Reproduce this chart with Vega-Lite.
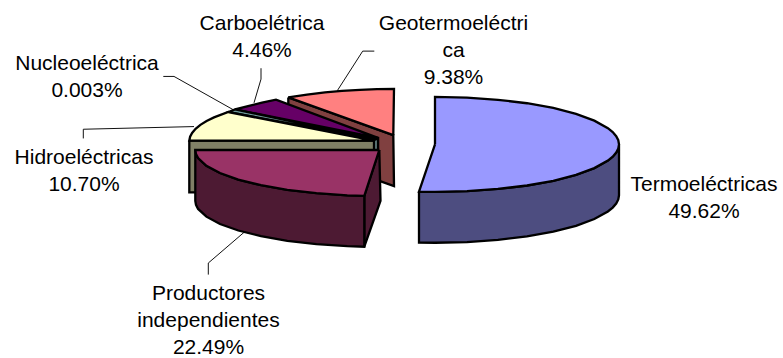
{
  "$schema": "https://vega.github.io/schema/vega-lite/v6.json",
  "width": 783,
  "height": 358,
  "padding": 0,
  "autosize": {"type": "fit", "contains": "padding"},
  "background": "white",
  "view": {"stroke": null},
  "config": {"style": {"cell": {"stroke": null}}},
  "datasets": {
    "faces": [
      {"face":"Geotermoeléctrica pared","pt":0,"x":-111.7,"y":51.5},{"face":"Geotermoeléctrica pared","pt":1,"x":-6.7,"y":13.3},{"face":"Geotermoeléctrica pared","pt":2,"x":-6,"y":-38.3},{"face":"Geotermoeléctrica pared","pt":3,"x":-111.7,"y":0},{"face":"Geotermoeléctrica pared","pt":4,"x":-111.7,"y":51.5},

      {"face":"Geotermoeléctrica","pt":0,"x":-6.7,"y":13.3},{"face":"Geotermoeléctrica","pt":1,"x":-6,"y":60},{"face":"Geotermoeléctrica","pt":2,"x":-23,"y":59.8},{"face":"Geotermoeléctrica","pt":3,"x":-40,"y":59.2},{"face":"Geotermoeléctrica","pt":4,"x":-58,"y":58.1},{"face":"Geotermoeléctrica","pt":5,"x":-75,"y":56.6},{"face":"Geotermoeléctrica","pt":6,"x":-93,"y":54.4},{"face":"Geotermoeléctrica","pt":7,"x":-111.7,"y":51.5},{"face":"Geotermoeléctrica","pt":8,"x":-6.7,"y":13.3},

      {"face":"Carboeléctrica pared","pt":0,"x":-165,"y":39.4},{"face":"Carboeléctrica pared","pt":1,"x":-22,"y":10.5},{"face":"Carboeléctrica pared","pt":2,"x":-22,"y":-41},{"face":"Carboeléctrica pared","pt":3,"x":-165,"y":-12},{"face":"Carboeléctrica pared","pt":4,"x":-165,"y":39.4},

      {"face":"Carboeléctrica","pt":0,"x":-22,"y":10.5},{"face":"Carboeléctrica","pt":1,"x":-124,"y":49.2},{"face":"Carboeléctrica","pt":2,"x":-138,"y":46.3},{"face":"Carboeléctrica","pt":3,"x":-152,"y":42.6},{"face":"Carboeléctrica","pt":4,"x":-165,"y":39.4},{"face":"Carboeléctrica","pt":5,"x":-22,"y":10.5},

      {"face":"Nucleoeléctrica pared","pt":0,"x":-26.5,"y":8.3},{"face":"Nucleoeléctrica pared","pt":1,"x":-22,"y":10},{"face":"Nucleoeléctrica pared","pt":2,"x":-22,"y":-42},{"face":"Nucleoeléctrica pared","pt":3,"x":-26.5,"y":-43},{"face":"Nucleoeléctrica pared","pt":4,"x":-26.5,"y":8.3},

      {"face":"Nucleoeléctrica","pt":0,"x":-24.5,"y":9},{"face":"Nucleoeléctrica","pt":1,"x":-165,"y":39.4},{"face":"Nucleoeléctrica","pt":2,"x":-171.7,"y":36.7},{"face":"Nucleoeléctrica","pt":3,"x":-24.5,"y":9},

      {"face":"Hidroeléctricas pared","pt":0,"x":-210.7,"y":7.8},{"face":"Hidroeléctricas pared","pt":1,"x":-26,"y":7.8},{"face":"Hidroeléctricas pared","pt":2,"x":-26,"y":-44.5},{"face":"Hidroeléctricas pared","pt":3,"x":-210.7,"y":-44.5},{"face":"Hidroeléctricas pared","pt":4,"x":-210.7,"y":7.8},

      {"face":"Hidroeléctricas","pt":0,"x":-26,"y":7.8},{"face":"Hidroeléctricas","pt":1,"x":-171.7,"y":36.7},{"face":"Hidroeléctricas","pt":2,"x":-186,"y":31.3},{"face":"Hidroeléctricas","pt":3,"x":-193.4,"y":27.6},{"face":"Hidroeléctricas","pt":4,"x":-199.6,"y":23.7},{"face":"Hidroeléctricas","pt":5,"x":-204.4,"y":19.7},{"face":"Hidroeléctricas","pt":6,"x":-207.9,"y":15.6},{"face":"Hidroeléctricas","pt":7,"x":-209.9,"y":11.8},{"face":"Hidroeléctricas","pt":8,"x":-210.7,"y":7.8},{"face":"Hidroeléctricas","pt":9,"x":-26,"y":7.8},

      {"face":"Productores corte","pt":0,"x":-20.7,"y":-1.7},{"face":"Productores corte","pt":1,"x":-19.5,"y":-53},{"face":"Productores corte","pt":2,"x":-35.7,"y":-99.5},{"face":"Productores corte","pt":3,"x":-35.7,"y":-48},{"face":"Productores corte","pt":4,"x":-20.7,"y":-1.7},

      {"face":"Productores pared","pt":0,"x":-204.7,"y":-1.7},{"face":"Productores pared","pt":1,"x":-204,"y":-5.7},{"face":"Productores pared","pt":2,"x":-201.9,"y":-9.8},{"face":"Productores pared","pt":3,"x":-193.6,"y":-17.6},{"face":"Productores pared","pt":4,"x":-180,"y":-25},{"face":"Productores pared","pt":5,"x":-161.7,"y":-31.6},{"face":"Productores pared","pt":6,"x":-139,"y":-37.3},{"face":"Productores pared","pt":7,"x":-112.7,"y":-42},{"face":"Productores pared","pt":8,"x":-83.6,"y":-45.4},{"face":"Productores pared","pt":9,"x":-52.7,"y":-47.5},{"face":"Productores pared","pt":10,"x":-35.7,"y":-48},{"face":"Productores pared","pt":11,"x":-35.7,"y":-99.5},{"face":"Productores pared","pt":12,"x":-52.7,"y":-99},{"face":"Productores pared","pt":13,"x":-83.6,"y":-96.9},{"face":"Productores pared","pt":14,"x":-112.7,"y":-93.5},{"face":"Productores pared","pt":15,"x":-139,"y":-88.8},{"face":"Productores pared","pt":16,"x":-161.7,"y":-83.1},{"face":"Productores pared","pt":17,"x":-180,"y":-76.5},{"face":"Productores pared","pt":18,"x":-193.6,"y":-69.1},{"face":"Productores pared","pt":19,"x":-201.9,"y":-61.3},{"face":"Productores pared","pt":20,"x":-204,"y":-57.2},{"face":"Productores pared","pt":21,"x":-204.7,"y":-53.2},{"face":"Productores pared","pt":22,"x":-204.7,"y":-1.7},

      {"face":"Productores","pt":0,"x":-20.7,"y":-1.7},{"face":"Productores","pt":1,"x":-35.7,"y":-48},{"face":"Productores","pt":2,"x":-52.7,"y":-47.5},{"face":"Productores","pt":3,"x":-83.6,"y":-45.4},{"face":"Productores","pt":4,"x":-112.7,"y":-42},{"face":"Productores","pt":5,"x":-139,"y":-37.3},{"face":"Productores","pt":6,"x":-161.7,"y":-31.6},{"face":"Productores","pt":7,"x":-180,"y":-25},{"face":"Productores","pt":8,"x":-193.6,"y":-17.6},{"face":"Productores","pt":9,"x":-201.9,"y":-9.8},{"face":"Productores","pt":10,"x":-204,"y":-5.7},{"face":"Productores","pt":11,"x":-204.7,"y":-1.7},{"face":"Productores","pt":12,"x":-20.7,"y":-1.7},

      {"face":"Termoeléctricas pared","pt":0,"x":19,"y":-43.8},{"face":"Termoeléctricas pared","pt":1,"x":35,"y":-44},{"face":"Termoeléctricas pared","pt":2,"x":67,"y":-43.3},{"face":"Termoeléctricas pared","pt":3,"x":97.9,"y":-41.1},{"face":"Termoeléctricas pared","pt":4,"x":127,"y":-37.6},{"face":"Termoeléctricas pared","pt":5,"x":153.3,"y":-32.8},{"face":"Termoeléctricas pared","pt":6,"x":176,"y":-26.9},{"face":"Termoeléctricas pared","pt":7,"x":194.3,"y":-20},{"face":"Termoeléctricas pared","pt":8,"x":207.9,"y":-12.4},{"face":"Termoeléctricas pared","pt":9,"x":212.7,"y":-8.4},{"face":"Termoeléctricas pared","pt":10,"x":216.2,"y":-4.3},{"face":"Termoeléctricas pared","pt":11,"x":218.3,"y":-0.2},{"face":"Termoeléctricas pared","pt":12,"x":219,"y":4},{"face":"Termoeléctricas pared","pt":13,"x":219,"y":-47.5},{"face":"Termoeléctricas pared","pt":14,"x":218.3,"y":-51.7},{"face":"Termoeléctricas pared","pt":15,"x":216.2,"y":-55.8},{"face":"Termoeléctricas pared","pt":16,"x":212.7,"y":-59.9},{"face":"Termoeléctricas pared","pt":17,"x":207.9,"y":-63.9},{"face":"Termoeléctricas pared","pt":18,"x":194.3,"y":-71.5},{"face":"Termoeléctricas pared","pt":19,"x":176,"y":-78.4},{"face":"Termoeléctricas pared","pt":20,"x":153.3,"y":-84.3},{"face":"Termoeléctricas pared","pt":21,"x":127,"y":-89.1},{"face":"Termoeléctricas pared","pt":22,"x":97.9,"y":-92.6},{"face":"Termoeléctricas pared","pt":23,"x":67,"y":-94.8},{"face":"Termoeléctricas pared","pt":24,"x":35,"y":-95.5},{"face":"Termoeléctricas pared","pt":25,"x":19,"y":-95.3},{"face":"Termoeléctricas pared","pt":26,"x":19,"y":-43.8},

      {"face":"Termoeléctricas","pt":0,"x":35,"y":4},{"face":"Termoeléctricas","pt":1,"x":19,"y":-43.8},{"face":"Termoeléctricas","pt":2,"x":35,"y":-44},{"face":"Termoeléctricas","pt":3,"x":67,"y":-43.3},{"face":"Termoeléctricas","pt":4,"x":97.9,"y":-41.1},{"face":"Termoeléctricas","pt":5,"x":127,"y":-37.6},{"face":"Termoeléctricas","pt":6,"x":153.3,"y":-32.8},{"face":"Termoeléctricas","pt":7,"x":176,"y":-26.9},{"face":"Termoeléctricas","pt":8,"x":194.3,"y":-20},{"face":"Termoeléctricas","pt":9,"x":207.9,"y":-12.4},{"face":"Termoeléctricas","pt":10,"x":212.7,"y":-8.4},{"face":"Termoeléctricas","pt":11,"x":216.2,"y":-4.3},{"face":"Termoeléctricas","pt":12,"x":218.3,"y":-0.2},{"face":"Termoeléctricas","pt":13,"x":219,"y":4},{"face":"Termoeléctricas","pt":14,"x":218.3,"y":8.2},{"face":"Termoeléctricas","pt":15,"x":216.2,"y":12.3},{"face":"Termoeléctricas","pt":16,"x":212.7,"y":16.4},{"face":"Termoeléctricas","pt":17,"x":207.9,"y":20.4},{"face":"Termoeléctricas","pt":18,"x":194.3,"y":28},{"face":"Termoeléctricas","pt":19,"x":176,"y":34.9},{"face":"Termoeléctricas","pt":20,"x":153.3,"y":40.8},{"face":"Termoeléctricas","pt":21,"x":127,"y":45.6},{"face":"Termoeléctricas","pt":22,"x":97.9,"y":49.1},{"face":"Termoeléctricas","pt":23,"x":67,"y":51.3},{"face":"Termoeléctricas","pt":24,"x":35,"y":52},{"face":"Termoeléctricas","pt":25,"x":35,"y":4}
    ],
    "leaders": [
      {"slice":"Geotermoeléctrica","pt":0,"x":-25.7,"y":98.3},{"slice":"Geotermoeléctrica","pt":1,"x":-37.3,"y":98.3},{"slice":"Geotermoeléctrica","pt":2,"x":-62.7,"y":58.3},
      {"slice":"Carboeléctrica","pt":0,"x":-139,"y":81},{"slice":"Carboeléctrica","pt":1,"x":-139,"y":70},{"slice":"Carboeléctrica","pt":2,"x":-146,"y":46},
      {"slice":"Nucleoeléctrica","pt":0,"x":-236.7,"y":72.7},{"slice":"Nucleoeléctrica","pt":1,"x":-226,"y":72.7},{"slice":"Nucleoeléctrica","pt":2,"x":-166.7,"y":39},
      {"slice":"Hidroeléctricas","pt":0,"x":-316.7,"y":10},{"slice":"Hidroeléctricas","pt":1,"x":-316.7,"y":19.3},{"slice":"Hidroeléctricas","pt":2,"x":-206,"y":22},
      {"slice":"Productores","pt":0,"x":-191.7,"y":-127.7},{"slice":"Productores","pt":1,"x":-191.7,"y":-116},{"slice":"Productores","pt":2,"x":-156,"y":-85}
    ],
    "labels": [
      {"slice":"Carboeléctrica","share":4.46,"label":"Carboelétrica\n4.46%","x":-138,"y":120},
      {"slice":"Geotermoeléctrica","share":9.38,"label":"Geotermoeléctri\nca\n9.38%","x":53.5,"y":119.3},
      {"slice":"Termoeléctricas","share":49.62,"label":"Termoeléctricas\n49.62%","x":304,"y":-43},
      {"slice":"Hidroeléctricas","share":10.7,"label":"Hidroeléctricas\n10.70%","x":-316,"y":-16},
      {"slice":"Nucleoeléctrica","share":0.003,"label":"Nucleoeléctrica\n0.003%","x":-313,"y":79.3},
      {"slice":"Productores","share":22.49,"label":"Productores\nindependientes\n22.49%","x":-191.5,"y":-153.3}
    ]
  },
  "encoding": {
    "x": {"field": "x", "type": "quantitative", "axis": null, "scale": {"domain": [-400, 383], "nice": false, "zero": false}},
    "y": {"field": "y", "type": "quantitative", "axis": null, "scale": {"domain": [-208, 150], "nice": false, "zero": false}}
  },
  "layer": [
    {
      "data": {"name": "leaders"},
      "mark": {"type": "line", "stroke": "#111111", "strokeWidth": 1},
      "encoding": {
        "detail": {"field": "slice"},
        "order": {"field": "pt", "type": "quantitative"}
      }
    },
    {
      "data": {"name": "faces"},
      "mark": {"type": "line", "filled": true, "stroke": "black", "strokeWidth": 2.3, "strokeJoin": "miter"},
      "encoding": {
        "detail": {"field": "face"},
        "order": {"field": "pt", "type": "quantitative"},
        "fill": {
          "field": "face",
          "type": "nominal",
          "legend": null,
          "scale": {
            "domain": ["Geotermoeléctrica pared","Geotermoeléctrica","Carboeléctrica pared","Carboeléctrica","Nucleoeléctrica pared","Nucleoeléctrica","Hidroeléctricas pared","Hidroeléctricas","Productores corte","Productores pared","Productores","Termoeléctricas pared","Termoeléctricas"],
            "range": ["#804040","#FF8080","#330033","#660066","#668080","#6E9999","#808066","#FFFFCC","#4D1A33","#4D1A33","#993366","#4D4D80","#9999FF"]
          }
        }
      }
    },
    {
      "data": {"name": "labels"},
      "mark": {"type": "text", "font": "Liberation Sans", "fontSize": 21, "lineHeight": 27, "lineBreak": "\n", "align": "center", "baseline": "alphabetic", "color": "black"},
      "encoding": {
        "text": {"field": "label"}
      }
    }
  ]
}
